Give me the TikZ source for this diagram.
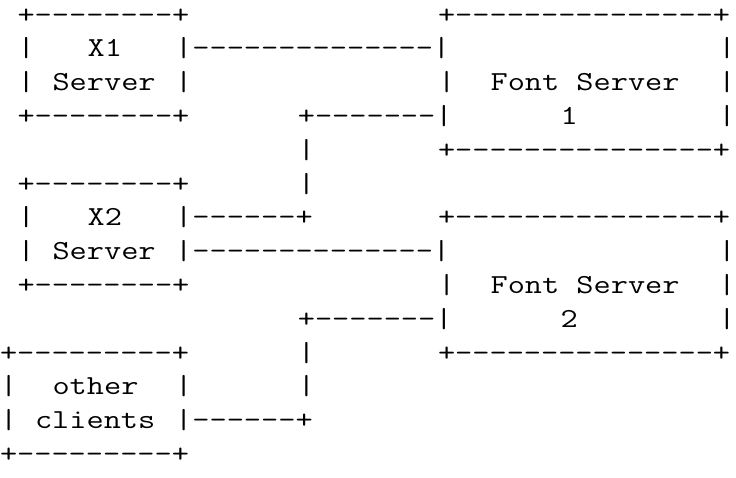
\documentclass[tikz,border=0pt]{standalone}
\usepackage{fontspec}
\setmonofont{Latin Modern Mono}
\usepackage{graphicx}
\newcommand\cw{17.52}
\newcommand\lh{33.8}
\newcommand\bl{23}
\tikzset{
  asc/.style={inner sep=0pt, outer sep=0pt, anchor=base west, text=black,
    font=\ttfamily\fontsize{27.5}{34}\selectfont}
}
\newcommand\art[4]{\node[asc] (#1) at ({#2*\cw pt},{-\bl pt-#3*\lh pt}) {\scalebox{1.2135}[1]{#4}};}
\begin{document}
\begin{tikzpicture}
\useasboundingbox (0,0) rectangle (736pt,-477pt);
% row 0
\art{xaTop}{1}{0}{+--------+}
\art{faTop}{25}{0}{+---------------+}
% row 1
\art{xaL1}{1}{1}{|}
\art{xaName}{5}{1}{X1}
\art{linkXaFa}{10}{1}{|--------------|}
\art{faR1}{41}{1}{|}
% row 2
\art{xaL2}{1}{2}{|}
\art{xaSrv}{3}{2}{Server}
\art{xaR2}{10}{2}{|}
\art{faL2}{25}{2}{|}
\art{faName}{28}{2}{Font Server}
\art{faR2}{41}{2}{|}
% row 3
\art{xaBot}{1}{3}{+--------+}
\art{busA}{17}{3}{+-------|}
\art{faNum}{32}{3}{1}
\art{faR3}{41}{3}{|}
% row 4
\art{busA4}{17}{4}{|}
\art{faBot}{25}{4}{+---------------+}
% row 5
\art{xbTop}{1}{5}{+--------+}
\art{busA5}{17}{5}{|}
% row 6
\art{xbL6}{1}{6}{|}
\art{xbName}{5}{6}{X2}
\art{linkXbBus}{10}{6}{|------+}
\art{fbTop}{25}{6}{+---------------+}
% row 7
\art{xbL7}{1}{7}{|}
\art{xbSrv}{3}{7}{Server}
\art{linkXbFb}{10}{7}{|--------------|}
\art{fbR7}{41}{7}{|}
% row 8
\art{xbBot}{1}{8}{+--------+}
\art{fbL8}{25}{8}{|}
\art{fbName}{28}{8}{Font Server}
\art{fbR8}{41}{8}{|}
% row 9
\art{busB}{17}{9}{+-------|}
\art{fbNum}{32}{9}{2}
\art{fbR9}{41}{9}{|}
% row 10
\art{ocTop}{0}{10}{+---------+}
\art{busB10}{17}{10}{|}
\art{fbBot}{25}{10}{+---------------+}
% row 11
\art{ocL11}{0}{11}{|}
\art{ocName}{3}{11}{other}
\art{ocR11}{10}{11}{|}
\art{busB11}{17}{11}{|}
% row 12
\art{ocL12}{0}{12}{|}
\art{ocName2}{2}{12}{clients}
\art{linkOcBus}{10}{12}{|------+}
% row 13
\art{ocBot}{0}{13}{+---------+}
\end{tikzpicture}
\end{document}
